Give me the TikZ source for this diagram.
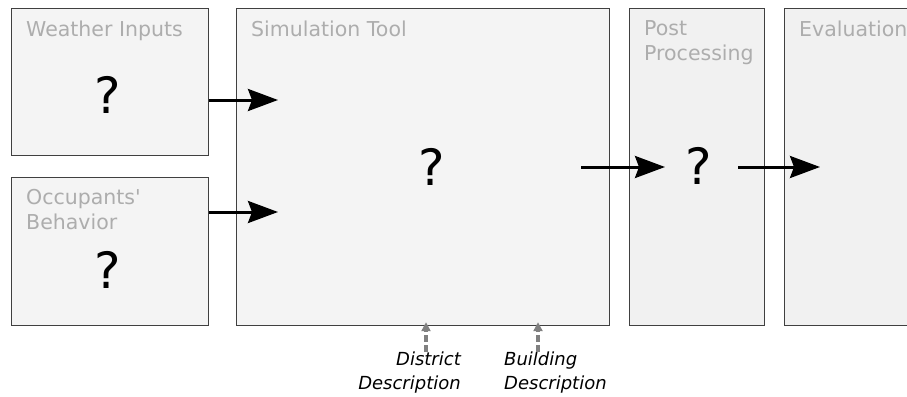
\documentclass[tikz,border=0pt]{standalone}
\usepackage{fontspec}
\setmainfont{DejaVu Sans}
\usetikzlibrary{arrows.meta,
  positioning,
  calc}
\usepackage{xcolor}
\definecolor{boxfill}{HTML}{F4F4F4}
\definecolor{boxfilldark}{HTML}{F1F1F1}
\definecolor{titlegray}{HTML}{ADADAD}

\begin{document}
\begin{tikzpicture}[x=1pt,y=-1pt,
    stage/.style={draw=black!75,line width=1.2pt,fill=boxfill,anchor=north west,inner sep=0pt},
    title/.style={anchor=north west,inner sep=0pt,text=titlegray,align=left,
      font=\fontsize{20.5}{25}\selectfont},
    qmark/.style={inner sep=0pt,font=\fontsize{50}{50}\selectfont},
    flow/.style={-{Stealth[length=30pt,width=22pt,inset=4pt]},line width=3pt},
    feed/.style={-{Triangle[length=9pt,width=9pt]},draw=gray,line width=3.5pt,
      dash pattern=on 7pt off 3pt},
    desc/.style={inner sep=0pt,font=\fontsize{18}{24}\selectfont\itshape}]

      \useasboundingbox (0,0) rectangle (907,396);

      % Stages
      \node[stage,minimum width=197pt,minimum height=147pt] (weather) at (11,8) {};
      \node[stage,minimum width=197pt,minimum height=148pt] (occupants) at (11,177) {};
      \node[stage,minimum width=373pt,minimum height=317pt] (sim) at (236,8) {};
      \node[stage,fill=boxfilldark,minimum width=135pt,minimum height=317pt] (post) at (629,8) {};
      \node[stage,fill=boxfilldark,minimum width=150pt,minimum height=317pt] (eval) at (784,8) {};

      % Titles
      \node[title] (weather title) at ($(weather.north west)+(15,13)$) {Weather Inputs};
      \node[title] (occupants title) at ($(occupants.north west)+(15,12)$) {Occupants\textquotesingle\\Behavior};
      \node[title] (sim title) at ($(sim.north west)+(15,13)$) {Simulation Tool};
      \node[title] (post title) at ($(post.north west)+(15,12)$) {Post\\Processing};
      \node[title] (eval title) at ($(eval.north west)+(15,13)$) {Evaluation};

      % Unknowns
      \node[qmark] (weather q) at (108,95) {?};
      \node[qmark] (occupants q) at (108,270) {?};
      \node[qmark] (sim q) at (432,167) {?};
      \node[qmark] (post q) at (699,166) {?};

      % Flow between stages
      \coordinate (weather in) at (278,100);
      \coordinate (occupants in) at (278,212);
      \coordinate (sim out) at (581,167);
      \coordinate (post in) at (665,167);
      \coordinate (post out) at (738,167);
      \coordinate (eval in) at (820,167);
      \draw[flow] (weather.east |- weather in) -- (weather in);
      \draw[flow] (occupants.east |- occupants in) -- (occupants in);
      \draw[flow] (sim out) -- (post in);
      \draw[flow] (post out) -- (eval in);

      % Descriptions fed into the tool
      \node[desc,anchor=north east,align=right] (district) at (461,352) {District\\Description};
      \node[desc,anchor=north west,align=left] (building) at (504,352) {Building\\Description};
      \coordinate (district feed) at (426,352);
      \coordinate (building feed) at (538,352);
      \draw[feed] (district feed) -- ($(district feed |- sim.south)+(0,-4)$);
      \draw[feed] (building feed) -- ($(building feed |- sim.south)+(0,-4)$);
\end{tikzpicture}
\end{document}
